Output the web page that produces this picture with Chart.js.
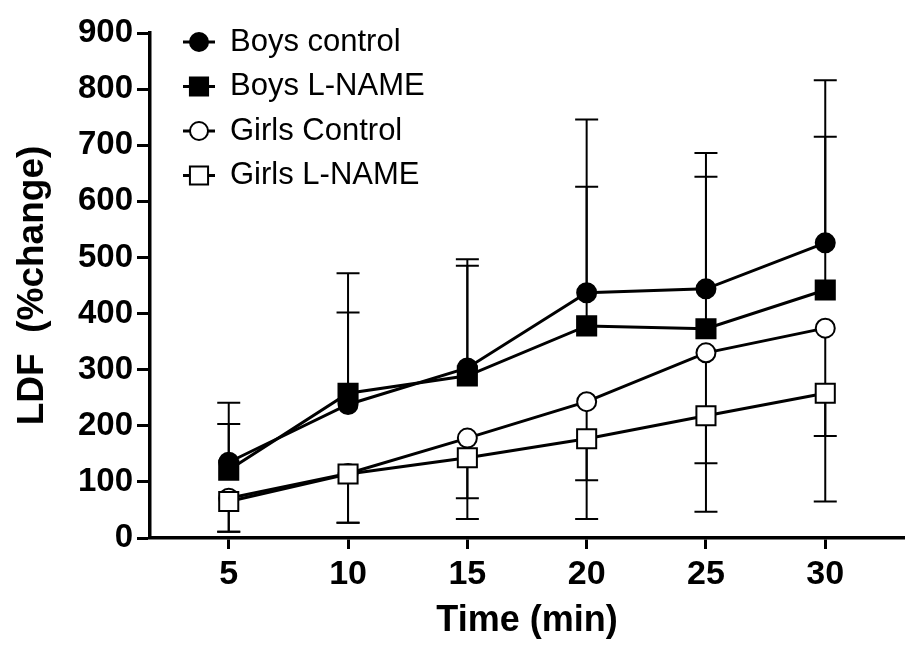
<!DOCTYPE html>
<html>
<head>
<meta charset="utf-8">
<script src="https://cdn.jsdelivr.net/npm/chart.js@4.4.1/dist/chart.umd.min.js"></script>
<style>
  html, body { margin: 0; padding: 0; background: #fff; }
</style>
</head>
<body>
<canvas id="ldf-chart" width="908" height="646"></canvas>
<script>
// --- data ---
const timePoints = [5, 10, 15, 20, 25, 30];

const boysControl  = [135, 238, 303, 437, 444, 526];
const boysLName    = [121, 258, 289, 378, 373, 442];
const girlsControl = [71, 115, 178, 243, 330, 374];
const girlsLName   = [65, 114, 143, 177, 218, 258];

// where each error bar ends (boys go up, girls go down)
const boysControlErr  = [241, 472, 497, 746, 686, 816];
const boysLNameErr    = [203, 402, 485, 626, 644, 715];
const girlsControlErr = [11, 27, 34, 34, 47, 65];
const girlsLNameErr   = [11, 27, 71, 103, 133, 182];

const seriesLabels = ["Boys control", "Boys L-NAME", "Girls Control", "Girls L-NAME"];

const FONT = "'Liberation Sans', Arial, Helvetica, sans-serif";

function makeSeries(label, values, errEnds, style, filled, order) {
    return {
        label: label,
        data: values.map((v, i) => ({ x: timePoints[i], y: v })),
        errEnds: errEnds,
        order: order,
        borderColor: "#000",
        borderWidth: 3,
        tension: 0,
        fill: false,
        pointStyle: style,
        pointRadius: style === "rect" ? 13.5 : 9.5,
        pointBorderWidth: 2,
        pointBorderColor: "#000",
        pointBackgroundColor: filled ? "#000" : "#fff"
    };
}

// error bars are drawn under the markers
const errorBars = {
    id: "errorBars",
    beforeDatasetsDraw(chart) {
        const ctx = chart.ctx;
        const xs = chart.scales.x;
        const ys = chart.scales.y;
        ctx.save();
        ctx.strokeStyle = "#000";
        ctx.lineWidth = 2;
        chart.data.datasets.forEach(ds => {
            ds.data.forEach((pt, i) => {
                const x = xs.getPixelForValue(pt.x);
                const y0 = ys.getPixelForValue(pt.y);
                const y1 = ys.getPixelForValue(ds.errEnds[i]);
                ctx.beginPath();
                ctx.moveTo(x, y0);
                ctx.lineTo(x, y1);
                ctx.moveTo(x - 11.5, y1);
                ctx.lineTo(x + 11.5, y1);
                ctx.stroke();
            });
        });
        ctx.restore();
    }
};

// legend sits inside the plot, top left
const insetLegend = {
    id: "insetLegend",
    afterDraw(chart) {
        const ctx = chart.ctx;
        const area = chart.chartArea;
        const mx = area.left + 49;
        ctx.save();
        chart.data.datasets.forEach((ds, row) => {
            const y = area.top + 9 + row * 44.5;
            ctx.strokeStyle = "#000";
            ctx.lineWidth = 3;
            ctx.beginPath();
            ctx.moveTo(mx - 16, y);
            ctx.lineTo(mx + 16, y);
            ctx.stroke();
            ctx.fillStyle = ds.pointBackgroundColor;
            ctx.lineWidth = 2;
            Chart.helpers.drawPoint(ctx, {
                pointStyle: ds.pointStyle,
                radius: ds.pointRadius * 0.95,
                borderWidth: 2,
                rotation: 0
            }, mx, y);
            ctx.fillStyle = "#000";
            ctx.font = "31px " + FONT;
            ctx.textBaseline = "middle";
            ctx.textAlign = "left";
            ctx.fillText(ds.label, mx + 31, y);
        });
        ctx.restore();
    }
};

const ctx = document.getElementById("ldf-chart").getContext("2d");
const chart = new Chart(ctx, {
    type: "line",
    data: {
        datasets: [
            makeSeries(seriesLabels[0], boysControl, boysControlErr, "circle", true, 2),
            makeSeries(seriesLabels[1], boysLName, boysLNameErr, "rect", true, 3),
            makeSeries(seriesLabels[2], girlsControl, girlsControlErr, "circle", false, 1),
            makeSeries(seriesLabels[3], girlsLName, girlsLNameErr, "rect", false, 0)
        ]
    },
    options: {
        responsive: false,
        animation: false,
        devicePixelRatio: 1,
        layout: {
            autoPadding: false, // markers would otherwise push the right edge in
            padding: { top: 33, right: 4, left: 0, bottom: 0 }
        },
        plugins: {
            legend: { display: false },
            tooltip: { enabled: false }
        },
        scales: {
            x: {
                type: "linear",
                min: 1.7,
                max: 33.3,
                afterBuildTicks: scale => {
                    scale.ticks = timePoints.map(v => ({ value: v }));
                },
                afterFit: scale => {
                    scale.height = 108;
                    scale.paddingLeft = 0;
                    scale.paddingRight = 0;
                },
                border: { display: true, color: "#000", width: 3.5 },
                grid: {
                    drawOnChartArea: false,
                    drawTicks: true,
                    tickLength: 11,
                    tickWidth: 3,
                    tickColor: "#000"
                },
                ticks: {
                    color: "#000",
                    padding: 5,
                    maxRotation: 0,
                    font: { family: FONT, size: 34, weight: "bold" }
                },
                title: {
                    display: true,
                    text: "Time (min)",
                    color: "#000",
                    padding: { top: 0, bottom: 3 },
                    font: { family: FONT, size: 36, weight: "bold" }
                }
            },
            y: {
                min: 0,
                max: 900,
                afterFit: scale => {
                    scale.width = 150;
                    scale.paddingTop = 0;
                    scale.paddingBottom = 0;
                },
                border: { display: true, color: "#000", width: 3.5 },
                grid: {
                    drawOnChartArea: false,
                    drawTicks: true,
                    tickLength: 13,
                    tickWidth: 3,
                    tickColor: "#000"
                },
                ticks: {
                    stepSize: 100,
                    color: "#000",
                    padding: 4,
                    font: { family: FONT, size: 33, weight: "bold" }
                },
                title: {
                    display: true,
                    text: "LDF  (%change)",
                    color: "#000",
                    padding: { top: 11, bottom: 0 },
                    font: { family: FONT, size: 37, weight: "bold" }
                }
            }
        }
    },
    plugins: [errorBars, insetLegend]
});
</script>
</body>
</html>
